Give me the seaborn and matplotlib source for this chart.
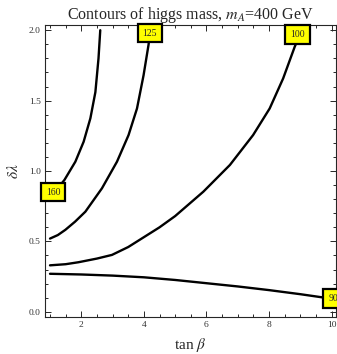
import matplotlib
matplotlib.use("Agg")
import matplotlib.pyplot as plt
import seaborn as sns
import pandas as pd
from matplotlib.ticker import MultipleLocator

# contour data
tb_160 = [1.0, 1.2, 1.46, 1.81, 2.075, 2.29, 2.45, 2.55, 2.606]
dl_160 = [0.80, 0.865, 0.936, 1.066, 1.208, 1.374, 1.56, 1.80, 2.0]

tb_125 = [1.0, 1.25, 1.49, 1.8, 2.13, 2.66, 3.14, 3.51, 3.78, 3.99, 4.15, 4.2]
dl_125 = [0.52, 0.545, 0.582, 0.64, 0.711, 0.877, 1.066, 1.255, 1.444, 1.68, 1.898, 2.0]

tb_100 = [1.0, 1.5, 1.91, 2.5, 2.98, 3.5, 4.0, 4.5, 5.0, 5.9, 6.75, 7.49, 8.02, 8.45, 8.82, 9.05]
dl_100 = [0.33, 0.338, 0.352, 0.378, 0.404, 0.46, 0.53, 0.60, 0.68, 0.853, 1.043, 1.255, 1.444, 1.657, 1.882, 2.0]

tb_90 = [1.0, 2.0, 3.0, 4.0, 5.0, 6.0, 7.0, 8.0, 9.0, 10.0]
dl_90 = [0.27, 0.265, 0.257, 0.245, 0.226, 0.203, 0.18, 0.154, 0.125, 0.093]

levels = ["160", "125", "100", "90"]
label_x = [1.1, 4.19, 8.91, 10.05]
label_y = [0.85, 1.98, 1.97, 0.096]

title = "Contours of higgs mass, $m_A$=400 GeV"
xlabel = r"tan $\beta$"
ylabel = r"$\delta\lambda$"

sns.set_style("ticks")
plt.rcParams["font.family"] = ["Liberation Serif", "DejaVu Serif"]
plt.rcParams["mathtext.fontset"] = "stix"

fig = plt.figure(figsize=(3.37, 3.54), dpi=100)
ax = fig.add_axes([45/337, 1-317/354, (336-45)/337, (317-25)/354])

curves = [(tb_160, dl_160), (tb_125, dl_125), (tb_100, dl_100), (tb_90, dl_90)]
for (tb, dl), lev in zip(curves, levels):
    df = pd.DataFrame({"tb": tb, "dl": dl})
    sns.lineplot(data=df, x="tb", y="dl", ax=ax, color="black", lw=1.7,
                 sort=False, estimator=None)

for lev, lx, ly in zip(levels, label_x, label_y):
    ax.text(lx, ly, lev, fontsize=7, ha="center", va="center", zorder=5,
            clip_on=False,
            bbox=dict(boxstyle="square,pad=0.5", fc="yellow", ec="black", lw=1.6))

ax.set_xlim(0.84, 10.14)
ax.set_ylim(-0.037, 2.037)
ax.xaxis.set_major_locator(MultipleLocator(2))
ax.xaxis.set_minor_locator(MultipleLocator(0.5))
ax.yaxis.set_major_locator(MultipleLocator(0.5))
ax.yaxis.set_minor_locator(MultipleLocator(0.1))
ax.tick_params(which="both", direction="in", top=True, right=True,
               labelsize=6.8, labelcolor="#333333", width=0.7)
ax.tick_params(which="major", length=4, pad=3)
ax.tick_params(which="minor", length=2)
for s in ax.spines.values():
    s.set_linewidth(0.8)
ax.set_xlabel(xlabel, fontsize=11, labelpad=5)
ax.set_ylabel(ylabel, fontsize=11, labelpad=6)
ax.set_title(title, fontsize=11.5, pad=1)

fig.savefig("out.png", dpi=100)
